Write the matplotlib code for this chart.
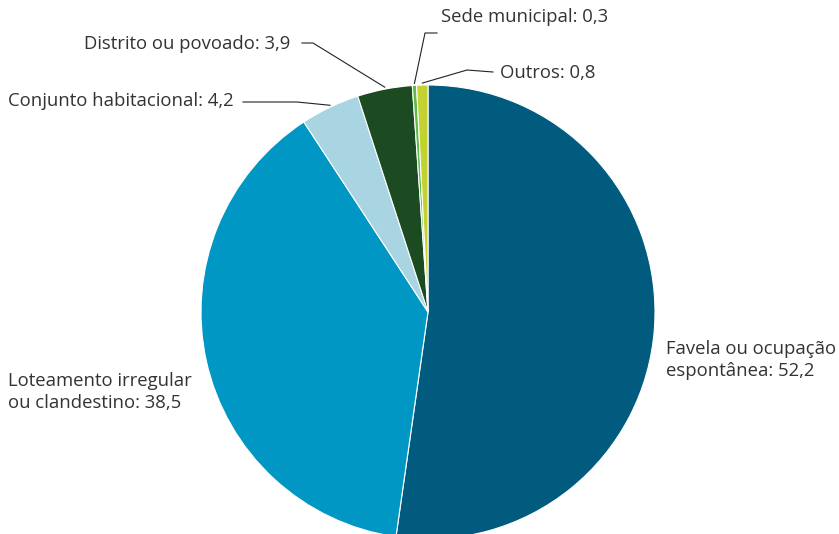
import matplotlib
matplotlib.use('Agg')
import matplotlib.pyplot as plt
import numpy as np

categories = ['Favela ou ocupação\nespontânea', 'Loteamento irregular\nou clandestino',
              'Conjunto habitacional', 'Distrito ou povoado', 'Sede municipal', 'Outros']
values = [52.2, 38.5, 4.2, 3.9, 0.3, 0.8]
colors = ['#005b7e', '#0097c4', '#a9d4e1', '#1d4b21', '#5dbb46', '#c2d230']

plt.rcParams['font.family'] = ['Open Sans', 'DejaVu Sans']

W, H = 839, 534
fig = plt.figure(figsize=(W / 100, H / 100), dpi=100)
ax = fig.add_axes([0, 0, 1, 1])

# layout in pixels, measured from the top-left corner
cx, cy, r = 428, 312, 227
wedges, _ = ax.pie(values, colors=colors, startangle=90, counterclock=False,
                   center=(cx, H - cy), radius=r, frame=True,
                   wedgeprops=dict(edgecolor='white', linewidth=0.8))
ax.set_xlim(0, W)
ax.set_ylim(0, H)
ax.set_aspect('equal')
ax.axis('off')

def fmt(v):
    return f'{v:.1f}'.replace('.', ',')

tc = '#333333'
fs = 13.3

def anchor(i):
    w = wedges[i]
    ang = np.deg2rad((w.theta1 + w.theta2) / 2)
    return cx + r * np.cos(ang), (H - cy) + r * np.sin(ang)

ax.text(666, H - 360, f'{categories[0]}: {fmt(values[0])}', fontsize=fs, color=tc,
        ha='left', va='center', linespacing=1.25)
ax.text(8, H - 392, f'{categories[1]}: {fmt(values[1])}', fontsize=fs, color=tc,
        ha='left', va='center', linespacing=1.25)

# (index, text pos, line start, elbow)
leaders = [
    (2, (8, 101), (243, 102), (297, 102)),
    (3, (84, 44), (302, 43), (313, 43)),
    (4, (441, 17), (437, 33), (425, 33)),
    (5, (500, 73), (493, 72), (467, 70)),
]
for i, tpos, start, elbow in leaders:
    ax.text(tpos[0], H - tpos[1], f'{categories[i]}: {fmt(values[i])}', fontsize=fs,
            color=tc, ha='left', va='center')
    px, py = anchor(i)
    ax.plot([start[0], elbow[0], px], [H - start[1], H - elbow[1], py + 2],
            color='#222222', lw=0.8)

fig.savefig('out.png', dpi=100, facecolor='white')
